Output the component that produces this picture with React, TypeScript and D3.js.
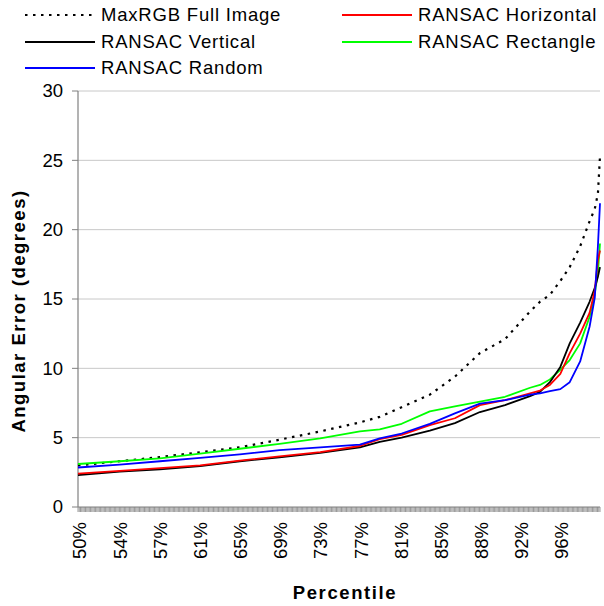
import React from "react";
import * as d3 from "d3";

const percentiles = [50, 54, 57.85, 61.7, 65.5, 69.3, 73.2, 77, 78.9, 81, 83.7, 86.1, 88.5, 90.9, 93.3, 94.25, 95.2, 96.2, 97.1, 98.1, 99.0, 99.5, 99.8, 100];
const maxRGB = [3.0, 3.3, 3.6, 3.95, 4.3, 4.85, 5.45, 6.1, 6.5, 7.2, 8.1, 9.4, 11.1, 12.1, 14.1, 14.8, 15.3, 16.3, 17.3, 18.8, 20.6, 21.5, 22.6, 25.3];
const ransacVertical = [2.3, 2.55, 2.72, 2.95, 3.3, 3.58, 3.9, 4.3, 4.7, 5.0, 5.5, 6.05, 6.85, 7.35, 8.0, 8.3, 9.0, 10.1, 11.8, 13.3, 14.8, 15.8, 16.6, 17.3];
const ransacHorizontal = [2.4, 2.6, 2.8, 3.0, 3.35, 3.65, 3.95, 4.4, 4.9, 5.2, 5.9, 6.4, 7.35, 7.7, 8.2, 8.4, 8.8, 9.6, 11.1, 12.5, 14.0, 15.6, 17.8, 18.5];
const ransacRectangle = [3.1, 3.3, 3.5, 3.85, 4.2, 4.55, 4.95, 5.45, 5.6, 6.0, 6.9, 7.25, 7.6, 7.95, 8.6, 8.8, 9.2, 9.9, 10.6, 11.8, 13.7, 15.4, 16.9, 19.0];
const ransacRandom = [2.85, 3.05, 3.3, 3.55, 3.8, 4.1, 4.3, 4.5, 4.95, 5.3, 6.0, 6.75, 7.45, 7.7, 8.1, 8.2, 8.35, 8.5, 9.0, 10.5, 13.0, 15.1, 18.8, 21.9];

const xTickLabels = ["50%", "54%", "57%", "61%", "65%", "69%", "73%", "77%", "81%", "85%", "88%", "92%", "96%"];
const yTicks = [0, 5, 10, 15, 20, 25, 30];
const minorTicksPerLabel = 32;

const series = [
  { name: "MaxRGB Full Image", values: maxRGB, color: "#000000", dash: "2.5,5.5" },
  { name: "RANSAC Horizontal", values: ransacHorizontal, color: "#ff0000", dash: null },
  { name: "RANSAC Vertical", values: ransacVertical, color: "#000000", dash: null },
  { name: "RANSAC Rectangle", values: ransacRectangle, color: "#00ff00", dash: null },
  { name: "RANSAC Random", values: ransacRandom, color: "#0000ff", dash: null },
];

const drawOrder = ["MaxRGB Full Image", "RANSAC Rectangle", "RANSAC Vertical", "RANSAC Horizontal", "RANSAC Random"];

export default function App() {
  const W = 604, H = 606;
  const left = 78, right = 600, top = 91, bottom = 507;
  const x = d3.scaleLinear().domain([50, 100]).range([left, right]);
  const y = d3.scaleLinear().domain([0, 30]).range([bottom, top]);
  const font = "Arial, 'Liberation Sans', sans-serif";
  const labelStep = 50 / xTickLabels.length;
  const nMinor = xTickLabels.length * minorTicksPerLabel;
  const minor = d3.range(nMinor + 1).map((i) => 50 + (i * 50) / nMinor);

  const line = (vals: number[]) =>
    d3.line<number>().x((_, i) => x(percentiles[i])).y((v) => y(v)).curve(d3.curveLinear)(vals) || "";

  const legendItems = [
    { s: series[0], lx: 25, ty: 15 },
    { s: series[2], lx: 25, ty: 42 },
    { s: series[4], lx: 25, ty: 68 },
    { s: series[1], lx: 342, ty: 15 },
    { s: series[3], lx: 342, ty: 42 },
  ];

  return (
    <svg width={W} height={H} style={{ position: "absolute", left: 0, top: 0, background: "#fff" }} fontFamily={font}>
      <rect x={0} y={0} width={W} height={H} fill="#fff" />
      {yTicks.filter((t) => t > 0).map((t) => (
        <line key={t} x1={left} x2={right} y1={y(t)} y2={y(t)} stroke="#c8c8c8" strokeWidth={1} />
      ))}
      {yTicks.map((t) => (
        <g key={"yt" + t}>
          <line x1={left - 6} x2={left} y1={y(t)} y2={y(t)} stroke="#808080" strokeWidth={1} />
          <text x={63} y={y(t)} dy="0.35em" textAnchor="end" fontSize={18.5} fill="#000">{t}</text>
        </g>
      ))}
      <line x1={left} x2={left} y1={top} y2={bottom} stroke="#808080" strokeWidth={1.2} />
      {minor.map((p, i) => (
        <line key={"m" + i} x1={x(p)} x2={x(p)} y1={bottom} y2={bottom + 5} stroke="#808080" strokeWidth={0.8} />
      ))}
      <line x1={left} x2={right} y1={bottom} y2={bottom} stroke="#808080" strokeWidth={1.2} />
      {xTickLabels.map((lab, i) => (
        <text key={lab} transform={`translate(${x(50 + i * labelStep) + 2},${bottom + 15}) rotate(-90)`} textAnchor="end" dy="0.35em" fontSize={18.5} fill="#000">{lab}</text>
      ))}
      {drawOrder.map((nm) => {
        const s = series.find((q) => q.name === nm)!;
        return (
          <path key={nm} d={line(s.values)} fill="none" stroke={s.color} strokeWidth={s.dash ? 2.2 : 1.8} strokeDasharray={s.dash || undefined} strokeLinejoin="round" />
        );
      })}
      <text transform={`translate(25,${(top + bottom) / 2 + 12}) rotate(-90)`} textAnchor="middle" fontSize={18.5} fontWeight="bold" letterSpacing={1.5} fill="#000">Angular Error (degrees)</text>
      <text x={(left + right) / 2 + 6} y={599} textAnchor="middle" fontSize={18.5} fontWeight="bold" letterSpacing={1.6} fill="#000">Percentile</text>
      {legendItems.map(({ s, lx, ty }) => (
        <g key={s.name}>
          <line x1={lx} x2={lx + 70} y1={ty} y2={ty} stroke={s.color} strokeWidth={s.dash ? 2.2 : 1.8} strokeDasharray={s.dash || undefined} />
          <text x={lx + 76} y={ty} dy="0.35em" fontSize={18.5} letterSpacing={0.8} fill="#000">{s.name}</text>
        </g>
      ))}
    </svg>
  );
}
